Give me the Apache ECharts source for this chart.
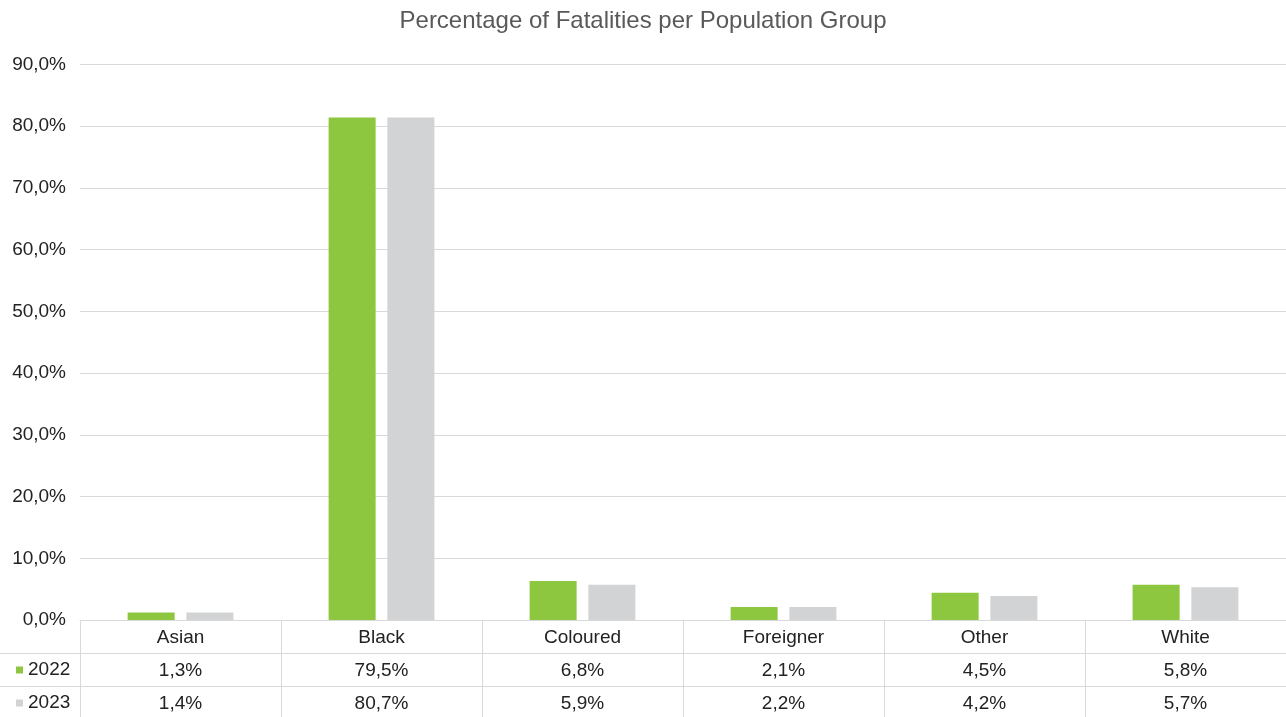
<!DOCTYPE html>
<html>
<head>
<meta charset="utf-8">
<script src="https://cdn.jsdelivr.net/npm/echarts@6/dist/echarts.min.js"></script>
<style>html,body{margin:0;padding:0;background:#fff}#c{width:1286px;height:717px}</style>
</head>
<body>
<div id="c"></div>
<script>
const categories = ['Asian', 'Black', 'Coloured', 'Foreigner', 'Other', 'White'];
const seriesNames = ['2022', '2023'];
// bar heights as drawn in the picture (%)
const bars2022 = [1.2, 81.4, 6.3, 2.1, 4.4, 5.7];
const bars2023 = [1.2, 81.4, 5.7, 2.1, 3.9, 5.3];
// data-table texts
const table2022 = ['1,3%', '79,5%', '6,8%', '2,1%', '4,5%', '5,8%'];
const table2023 = ['1,4%', '80,7%', '5,9%', '2,2%', '4,2%', '5,7%'];
const yTickLabels = ['0,0%', '10,0%', '20,0%', '30,0%', '40,0%', '50,0%', '60,0%', '70,0%', '80,0%', '90,0%'];

const FONT = 'Liberation Sans';
const TXT = '#222';
const LINE = '#d9d9d9';
const chart = echarts.init(document.getElementById('c'));
chart.setOption({
  animation: false,
  textStyle: { fontFamily: FONT },
  title: {
    text: 'Percentage of Fatalities per Population Group',
    left: 'center', top: 4,
    textStyle: { fontFamily: FONT, fontSize: 24, fontWeight: 'normal', color: '#595959' }
  },
  legend: {
    orient: 'vertical', left: 16, top: 660, padding: 0,
    itemWidth: 7, itemHeight: 7, itemGap: 13, icon: 'rect',
    textStyle: { fontFamily: FONT, fontSize: 19, color: TXT, lineHeight: 20 },
    data: seriesNames
  },
  grid: { left: 80, right: 0, top: 64.5, bottom: 97, outerBoundsMode: 'none', containLabel: false },
  xAxis: {
    type: 'category', data: categories,
    axisLine: { lineStyle: { color: LINE, width: 1 } },
    axisTick: { show: true, length: 97, interval: 0, lineStyle: { color: LINE } },
    axisLabel: {
      interval: 0, margin: 1, fontSize: 19, color: TXT, lineHeight: 33,
      formatter: (v, i) => v + '\n' + table2022[i] + '\n' + table2023[i]
    }
  },
  yAxis: {
    type: 'value', min: 0, max: 90, interval: 10,
    axisLine: { show: false }, axisTick: { show: false },
    splitLine: { lineStyle: { color: LINE } },
    axisLabel: { margin: 14, fontSize: 19, color: TXT, formatter: (v) => yTickLabels[Math.round(v / 10)] }
  },
  graphic: [
    { type: 'line', shape: { x1: 0, y1: 653.5, x2: 1286, y2: 653.5 }, style: { stroke: LINE, lineWidth: 1 } },
    { type: 'line', shape: { x1: 0, y1: 686.5, x2: 1286, y2: 686.5 }, style: { stroke: LINE, lineWidth: 1 } }
  ],
  series: [
    { name: seriesNames[0], type: 'bar', data: bars2022, barWidth: 47, barGap: '25%', itemStyle: { color: '#8DC63F' } },
    { name: seriesNames[1], type: 'bar', data: bars2023, barWidth: 47, itemStyle: { color: '#D1D3D4' } }
  ]
});
</script>
</body>
</html>
